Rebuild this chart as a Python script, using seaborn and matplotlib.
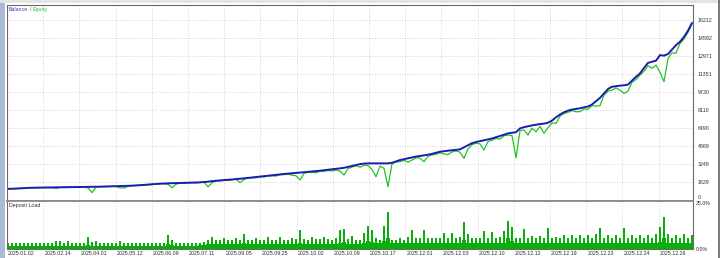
import numpy as np
import pandas as pd
import matplotlib
matplotlib.use("Agg")
import matplotlib.pyplot as plt
import matplotlib.transforms as mtrans
from matplotlib.patches import Rectangle
import seaborn as sns

# ---------------- data ----------------
balance = [
    1000, 1010, 1030, 1050, 1070, 1090, 1105, 1110, 1115, 1120,
    1125, 1130, 1130, 1135, 1140, 1145, 1150, 1160, 1170, 1180,
    1185, 1190, 1195, 1200, 1210, 1220, 1235, 1245, 1255, 1265,
    1275, 1290, 1310, 1335, 1360, 1390, 1420, 1450, 1470, 1490,
    1500, 1510, 1520, 1535, 1550, 1560, 1570, 1580, 1590, 1620,
    1650, 1700, 1735, 1765, 1790, 1820, 1850, 1880, 1910, 1950,
    1990, 2030, 2070, 2110, 2150, 2190, 2230, 2270, 2310, 2345,
    2375, 2400, 2430, 2460, 2500, 2540, 2570, 2600, 2640, 2680,
    2720, 2760, 2800, 2850, 2900, 2980, 3060, 3150, 3230, 3280,
    3300, 3300, 3295, 3300, 3310, 3300, 3350, 3480, 3600, 3680,
    3760, 3840, 3910, 3960, 4020, 4080, 4160, 4260, 4350, 4400,
    4440, 4480, 4520, 4560, 4750, 4950, 5120, 5220, 5300, 5380,
    5460, 5540, 5650, 5750, 5880, 6000, 6060, 6100, 6450, 6560,
    6640, 6720, 6780, 6840, 6880, 6960, 7150, 7450, 7700, 7900,
    8050, 8150, 8200, 8260, 8350, 8420, 8600, 8900, 9200, 9600,
    10000, 10200, 10250, 10300, 10330, 10400, 10750, 11100, 11400, 11900,
    12350, 12450, 12550, 13050, 13000, 13150, 13550, 13950, 14250, 14700,
    15250, 15950,
]

# floating loss (balance - equity) at each deal
floating_loss = [
    0, 0, 10, 0, 10, 0, 0, 10, 0, 0,
    0, 20, 80, 10, 0, 20, 0, 10, 0, 20,
    100, 530, 30, 0, 0, 20, 0, 30, 150, 185,
    60, 0, 0, 20, 0, 20, 0, 30, 0, 20,
    80, 410, 100, 0, 30, 0, 20, 40, 0, 30,
    450, 150, 20, 40, 0, 60, 30, 0, 350, 100,
    0, 40, 60, 0, 80, 30, 50, 120, 30, 60,
    60, 150, 250, 660, 100, 40, 80, 150, 40, 100,
    60, 150, 100, 250, 650, 150, 100, 60, 280, 150,
    200, 540, 1200, 250, 450, 2100, 100, 60, 150, 100,
    350, 250, 100, 200, 570, 150, 100, 150, 100, 250,
    350, 150, 100, 250, 1000, 350, 150, 100, 250, 880,
    200, 150, 100, 250, 100, 150, 250, 2300, 200, 250,
    790, 250, 630, 200, 880, 450, 200, 550, 150, 100,
    150, 100, 250, 300, 150, 250, 100, 450, 700, 150,
    200, 300, 150, 400, 730, 600, 150, 250, 150, 300,
    250, 590, 400, 1550, 2350, 400, 300, 720, 150, 200,
    150, 100,
]

# deposit load: peak of each deal and the solid floor underneath, %
deposit_load = [
    3.0, 3.2, 3.0, 3.1, 3.0, 3.2, 3.0, 3.1, 3.0, 3.0,
    3.1, 3.5, 4.5, 4.3, 3.2, 4.5, 3.3, 3.0, 3.1, 3.2,
    6.3, 4.0, 4.5, 3.2, 3.0, 3.1, 3.0, 3.5, 4.3, 3.2,
    3.0, 3.1, 3.0, 3.2, 3.0, 3.1, 3.0, 3.3, 3.1, 3.5,
    7.6, 5.0, 3.3, 3.1, 3.0, 3.2, 3.1, 3.3, 3.2, 4.0,
    5.0, 6.5, 4.8, 5.0, 6.2, 4.9, 5.0, 6.0, 4.9, 8.1,
    5.0, 4.8, 6.2, 4.9, 5.0, 6.5, 4.8, 5.0, 6.6, 5.0,
    4.9, 6.0, 5.2, 10.3, 5.3, 5.0, 6.5, 5.3, 5.2, 6.6,
    5.3, 5.0, 6.0, 10.3, 11.0, 5.2, 6.8, 5.0, 4.9, 8.5,
    12.5, 10.3, 6.0, 5.0, 12.5, 20.3, 5.0, 4.9, 5.8, 4.8,
    6.5, 10.3, 6.2, 6.2, 10.3, 6.0, 6.1, 6.0, 6.0, 8.9,
    6.2, 8.9, 6.0, 6.3, 14.5, 8.0, 6.1, 6.0, 6.0, 10.0,
    6.2, 9.4, 6.0, 6.5, 10.0, 14.9, 12.0, 6.0, 6.2, 10.7,
    6.1, 7.0, 6.0, 6.8, 6.2, 11.2, 6.0, 6.5, 6.1, 7.8,
    6.0, 7.5, 6.2, 7.8, 6.0, 7.5, 6.1, 8.0, 11.2, 6.0,
    7.8, 6.2, 7.5, 6.0, 11.2, 6.1, 7.8, 6.0, 7.6, 6.2,
    7.8, 6.0, 8.0, 12.0, 17.6, 7.9, 6.1, 7.8, 6.0, 7.9,
    6.2, 7.8,
]
load_floor = [
    1.5, 1.5, 1.4, 1.5, 1.5, 1.6, 1.5, 1.5, 1.4, 1.5,
    1.5, 1.6, 1.8, 1.8, 1.5, 1.8, 1.5, 1.5, 1.5, 1.5,
    2.0, 1.8, 1.8, 1.5, 1.5, 1.5, 1.4, 1.5, 1.8, 1.5,
    1.5, 1.5, 1.5, 1.5, 1.4, 1.5, 1.5, 1.5, 1.5, 1.6,
    2.5, 2.0, 1.8, 1.8, 1.8, 1.8, 1.8, 1.8, 1.9, 2.0,
    2.5, 2.6, 2.5, 2.5, 2.6, 2.5, 2.5, 2.6, 2.5, 3.0,
    2.5, 2.5, 2.6, 2.5, 2.5, 2.6, 2.5, 2.5, 2.6, 2.5,
    2.5, 2.6, 2.5, 3.5, 2.6, 2.5, 2.6, 2.5, 2.5, 2.6,
    2.6, 2.5, 2.6, 3.5, 3.8, 2.6, 2.8, 2.6, 2.6, 3.2,
    4.5, 3.8, 3.0, 3.0, 4.5, 6.0, 3.0, 3.0, 3.0, 3.0,
    3.2, 3.5, 3.2, 3.2, 3.5, 3.2, 3.2, 3.2, 3.2, 3.4,
    3.2, 3.4, 3.2, 3.2, 5.0, 3.4, 3.2, 3.2, 3.2, 3.5,
    3.2, 3.4, 3.2, 3.3, 3.5, 6.0, 4.5, 3.3, 3.2, 3.5,
    3.2, 3.3, 3.2, 3.3, 3.2, 3.5, 3.2, 3.3, 3.2, 3.3,
    3.2, 3.3, 3.2, 3.3, 3.2, 3.3, 3.2, 3.3, 3.5, 3.2,
    3.3, 3.2, 3.3, 3.2, 3.5, 3.2, 3.3, 3.2, 3.3, 3.2,
    3.3, 3.2, 3.3, 4.0, 6.0, 3.3, 3.2, 3.3, 3.2, 3.3,
    3.2, 3.3,
]

date_labels = [
    "2025.01.02", "2025.02.14", "2025.04.01", "2025.05.12", "2025.06.09",
    "2025.07.11", "2025.09.05", "2025.09.25", "2025.10.02", "2025.10.09",
    "2025.10.17", "2025.12.01", "2025.12.03", "2025.12.10", "2025.12.12",
    "2025.12.19", "2025.12.23", "2025.12.24", "2025.12.26",
]
money_ticks = [0, 1629, 3249, 4869, 6490, 8110, 9730, 11351, 12971, 14592, 16212]
load_ticks = [0, 25]
load_tick_labels = ["0.0%", "25.0%"]

# ---------------- frame ----------------
deal = np.arange(len(balance))
df = pd.DataFrame({
    "deal": deal,
    "Balance": np.array(balance, float),
    "Equity": np.array(balance, float) - np.array(floating_loss, float),
    "Load": deposit_load,
    "Floor": load_floor,
})

sns.set_theme(style="white")
plt.rcParams["font.family"] = ["Liberation Sans", "DejaVu Sans"]

W, H = 720, 258
fig = plt.figure(figsize=(W / 100, H / 100), dpi=100)
fig.patch.set_facecolor("white")

# window decorations
fig.add_artist(Rectangle((0, 0), 5 / W, 1, transform=fig.transFigure,
                         facecolor="#a9bbd3", edgecolor="none"))
fig.add_artist(Rectangle((0, 1 - 3 / H), 1, 3 / H, transform=fig.transFigure,
                         facecolor="#e4e4e4", edgecolor="none"))
fig.add_artist(Rectangle((718 / W, 0), 2 / W, 1, transform=fig.transFigure,
                         facecolor="#7a7a7a", edgecolor="none"))

ax1 = fig.add_axes([7 / W, 1 - 201 / H, 686 / W, 196 / H])
ax2 = fig.add_axes([7 / W, 1 - 249 / H, 686 / W, 48 / H])

BLUE = "#1c1cb0"
GREEN = "#22c422"
LOADGREEN = "#0aae0a"
TXT = "#2c2c2c"
FS = 3.8

sns.lineplot(data=df, x="deal", y="Equity", ax=ax1, color=GREEN, lw=0.9)
sns.lineplot(data=df, x="deal", y="Balance", ax=ax1, color=BLUE, lw=1.4)
sns.barplot(data=df, x="deal", y="Load", ax=ax2, color=LOADGREEN,
            width=0.42, native_scale=True, saturation=1, edgecolor="none")
sns.barplot(data=df, x="deal", y="Floor", ax=ax2, color=LOADGREEN,
            width=1.0, native_scale=True, saturation=1, edgecolor="none")

xlim = (-0.25, len(balance) - 0.75)
tick_pos = xlim[0] + np.arange(len(date_labels)) * 9.05

for ax in (ax1, ax2):
    ax.set_xlim(*xlim)
    ax.set_xlabel("")
    ax.set_ylabel("")
    ax.set_facecolor("white")
    ax.set_xticks(tick_pos)
    for s in ax.spines.values():
        s.set_color("#6a6a6a")
        s.set_linewidth(0.8)
    ax.tick_params(axis="both", length=0, colors=TXT, labelsize=FS)
    ax.yaxis.tick_right()

ax1.spines["bottom"].set_color("#8a8a8a")
ax1.spines["bottom"].set_linewidth(1.3)
ax2.spines["top"].set_color("#8a8a8a")
ax2.spines["top"].set_linewidth(1.3)

ax1.set_ylim(-90, 17564)
ax1.set_yticks(money_ticks)
ax1.set_yticklabels([str(v) for v in money_ticks])
ax1.tick_params(axis="y", pad=3.2)
ax1.set_xticklabels([])
ax1.grid(True, ls=(0, (1, 2)), color="#c4c4c4", lw=0.6)
ax1.get_yticklabels()[0].set_va("bottom")

ax2.set_ylim(0, 26)
ax2.set_yticks(load_ticks)
ax2.set_yticklabels(load_tick_labels)
ax2.tick_params(axis="y", pad=2.2)
ax2.set_xticklabels(date_labels, ha="left")
ax2.tick_params(axis="x", pad=1.2)
ax2.grid(True, axis="x", ls=(0, (1, 2)), color="#c4c4c4", lw=0.6)
ax2.grid(False, axis="y")
ax2.set_axisbelow(True)
offset = mtrans.ScaledTranslation(1.2 / 100, 0, fig.dpi_scale_trans)
for lab in ax2.get_xticklabels():
    lab.set_transform(lab.get_transform() + offset)

# panel captions
fig.text(9 / W, 1 - 9.5 / H, "Balance", color="#3b3bc8", fontsize=FS, va="center")
fig.text(29.5 / W, 1 - 9.5 / H, "/", color="#505050", fontsize=FS, va="center")
fig.text(33 / W, 1 - 9.5 / H, "Equity", color="#2ec42e", fontsize=FS, va="center")
fig.text(9 / W, 1 - 206 / H, "Deposit Load", color=TXT, fontsize=FS, va="center")

fig.savefig("out.png", dpi=100, facecolor=fig.get_facecolor())
